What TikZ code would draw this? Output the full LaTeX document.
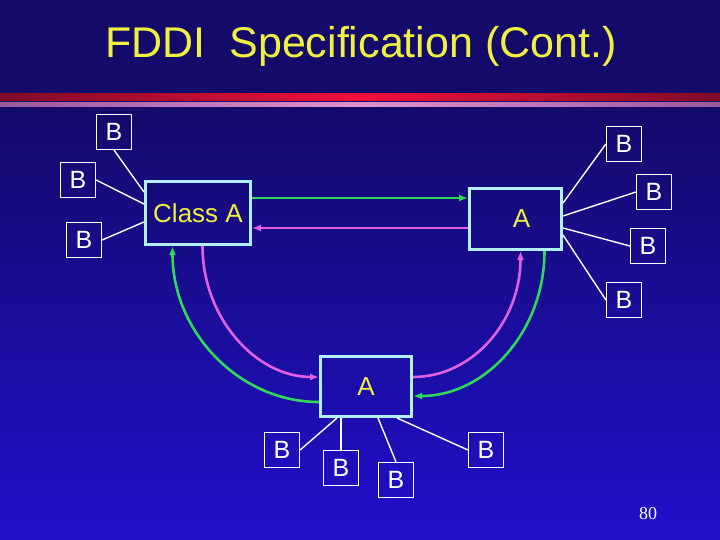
\documentclass[tikz,border=0pt]{standalone}
\usepackage{fontspec}
\setmainfont{Liberation Sans}
\newfontfamily\pagenofont{Liberation Serif}
\usetikzlibrary{calc,arrows.meta}
\definecolor{navytop}{HTML}{140A6A}
\definecolor{navybot}{HTML}{2010CC}
\definecolor{boxcyan}{HTML}{B0F0FF}
\definecolor{titleyel}{HTML}{F0F040}
\definecolor{ringgreen}{HTML}{30D858}
\definecolor{ringpink}{HTML}{E060E0}
\definecolor{bardark}{HTML}{800A28}
\definecolor{barred}{HTML}{F0103C}
\definecolor{barmauve}{HTML}{9A5A9A}
\definecolor{barpink}{HTML}{E090D0}
\tikzset{
	stnbox/.style={draw=white, line width=1.2pt, minimum size=35pt, inner sep=0pt, text=white, font=\fontsize{25}{25}\selectfont},
	abox/.style={draw=boxcyan, line width=3pt, inner sep=0pt, text=titleyel, font=\fontsize{26}{26}\selectfont},
	attach/.style={draw=white, line width=1.4pt},
	ring/.style={line width=2.6pt, -{Latex[length=9pt,width=7pt]}},
}

\begin{document}
\begin{tikzpicture}[x=1pt, y=-1pt]
		%%%%% START %%%%%
		\useasboundingbox (0, 0) rectangle (720, 540);
		
		\fill[navytop] (0, 0) rectangle (720, 106);
		\shade[top color=navytop, bottom color=navybot] (0, 106) rectangle (720, 540);
		\shade[left color=bardark, right color=bardark, middle color=barred] (0, 94) rectangle (720, 100.5);
		\shade[left color=barmauve, right color=barmauve, middle color=barpink] (0, 102.5) rectangle (720, 106.5);
		
		\node[anchor=base, text=titleyel, font=\fontsize{43}{43}\selectfont] (title) at (361, 58) {FDDI\ \ Specification (Cont.)};
		
		\node[abox, minimum width=105, minimum height=63] (clsa) at (198, 213) {Class A};
		\node[abox, minimum width=92, minimum height=61] (atop) at (515.5, 219) {\hspace{12pt}A};
		\node[abox, minimum width=91, minimum height=60] (abot) at (366, 386.5) {A};
		
		\node[stnbox] (bl1) at (114, 132) {B};
		\node[stnbox] (bl2) at (78, 180) {B};
		\node[stnbox] (bl3) at (84, 240) {B};
		
		\node[stnbox] (br1) at (624, 144) {B};
		\node[stnbox] (br2) at (654, 192) {B};
		\node[stnbox] (br3) at (648, 246) {B};
		\node[stnbox] (br4) at (624, 300) {B};
		
		\node[stnbox] (bb1) at (282, 450) {B};
		\node[stnbox] (bb2) at (341, 468) {B};
		\node[stnbox] (bb3) at (396, 480) {B};
		\node[stnbox] (bb4) at (486, 450) {B};
		
		\draw[attach] (bl1.south) -- ($(clsa.north west)+(0, 12)$);
		\draw[attach] (bl2.east) -- ($(clsa.west)+(0, -9)$);
		\draw[attach] (bl3.east) -- ($(clsa.west)+(0, 9)$);
		
		\draw[attach] ($(atop.east)+(0, -16)$) -- (br1.west);
		\draw[attach] ($(atop.east)+(0, -3)$) -- (br2.west);
		\draw[attach] ($(atop.east)+(0, 9)$) -- (br3.west);
		\draw[attach] ($(atop.east)+(0, 16)$) -- (br4.west);
		
		\draw[attach] ($(abot.south)+(-29, 0)$) -- (bb1.east);
		\draw[attach] ($(abot.south)+(-25, 0)$) -- (bb2.north);
		\draw[attach] ($(abot.south)+(12, 0)$) -- (bb3.north);
		\draw[attach] ($(abot.south)+(31, 0)$) -- (bb4.west);
		
		\draw[ring, line width=2pt, ringgreen] ($(clsa.east)+(0, -15)$) -- ($(atop.west)+(0, -21)$);
		\draw[ring, line width=2pt, ringpink] ($(atop.west)+(0, 9)$) -- ($(clsa.east)+(0, 15)$);
		
		\draw[ring, ringgreen] ($(abot.west)+(0, 15.5)$) .. controls +(-80, 0) and +(0, 86) .. ($(clsa.south west)+(28.5, 0)$);
		\draw[ring, ringpink] ($(clsa.south west)+(58.5, 0)$) .. controls +(0, 72) and +(-63, 0) .. ($(abot.west)+(0, -9.5)$);
		\draw[ring, ringpink] ($(abot.east)+(0, -9.5)$) .. controls +(60, 0) and +(0, 70) .. ($(atop.south west)+(52.5, 0)$);
		\draw[ring, ringgreen] ($(atop.south west)+(76.5, 0)$) .. controls +(0, 80) and +(73, 0) .. ($(abot.east)+(0, 9.5)$);
		
		\node[text=white, font=\pagenofont\fontsize{18}{18}\selectfont] (pageno) at (648, 514) {80};
		%%%%% END %%%%%
	\end{tikzpicture}
\end{document}
